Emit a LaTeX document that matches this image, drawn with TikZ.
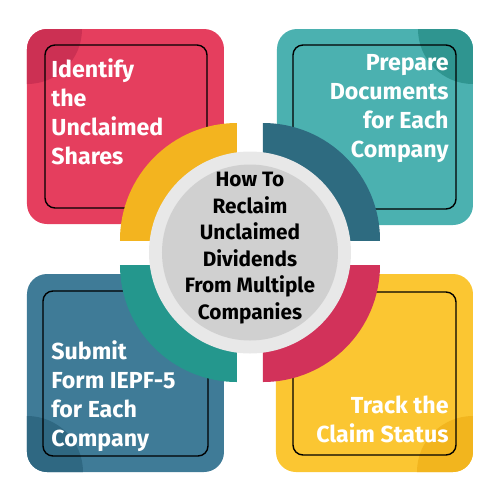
\documentclass[tikz,border=0pt]{standalone}
\usepackage{fontspec}
\setmainfont{Fira Sans}
\definecolor{cRed}{HTML}{E53E5E}
\definecolor{cRedD}{HTML}{CC3053}
\definecolor{cTeal}{HTML}{4BB1B0}
\definecolor{cTealD}{HTML}{2F9590}
\definecolor{cBlue}{HTML}{3F7B97}
\definecolor{cBlueD}{HTML}{2F6882}
\definecolor{cYel}{HTML}{FBC632}
\definecolor{cYelD}{HTML}{F2B51E}
\definecolor{aYel}{HTML}{F3B41F}
\definecolor{aTeal}{HTML}{2E6B80}
\definecolor{aGreen}{HTML}{24978D}
\definecolor{aRed}{HTML}{D2325A}
\definecolor{ringG}{HTML}{E8E8E8}
\definecolor{coreG}{HTML}{D0D0D0}
\tikzset{
  box/.style={rounded corners=10pt},
  inner/.style={draw=black, line width=0.7pt, rounded corners=5pt},
  boxtext/.style={text=white, font=\fontsize{11.6}{14.5}\selectfont\bfseries, inner sep=0pt},
  centertext/.style={text=black, font=\fontsize{10.4}{13.3}\selectfont\bfseries, inner sep=0pt, align=center}
}
\begin{document}
\begin{tikzpicture}[x=0.5pt,y=-0.5pt]
\useasboundingbox (0,0) rectangle (500,500);
% red box
\fill[cRed,box] (27,29) rectangle (224,224);
\begin{scope}\clip[box] (27,29) rectangle (224,224);
\fill[cRedD] (27,29) circle (55);\end{scope}
\draw[inner] (45,45) rectangle (207,208);
% teal box
\fill[cTeal,box] (277,29) rectangle (473,225);
\begin{scope}\clip[box] (277,29) rectangle (473,225);
\fill[cTealD] (473,29) circle (55);\end{scope}
\draw[inner] (293,45) rectangle (456,209);
% blue box
\fill[cBlue,box] (27,274) rectangle (224,472);
\begin{scope}\clip[box] (27,274) rectangle (224,472);
\fill[cBlueD] (27,472) circle (56);\end{scope}
\draw[inner] (43,291) rectangle (208,456);
% yellow box
\fill[cYel,box] (276,274) rectangle (473,472);
\begin{scope}\clip[box] (276,274) rectangle (473,472);
\fill[cYelD] (473,472) circle (56);\end{scope}
\draw[inner] (293,292) rectangle (456,455);
% quarter discs
\begin{scope}\clip (120,123) rectangle (237,240);
\fill[aYel] (237,240) circle (117);\end{scope}
\begin{scope}\clip (263,123) rectangle (380,240);
\fill[aTeal] (263,240) circle (117);\end{scope}
\begin{scope}\clip (120,265) rectangle (237,382);
\fill[aGreen] (237,265) circle (117);\end{scope}
\begin{scope}\clip (263,265) rectangle (380,382);
\fill[aRed] (263,265) circle (117);\end{scope}
% center circle
\fill[ringG] (250,252.5) circle (101);
\fill[coreG] (250,252.5) circle (88);
\node[centertext] (center) at (250,248) {How To\\Reclaim\\Unclaimed\\Dividends\\From Multiple\\Companies};
% texts
\node[boxtext, align=left, anchor=north west] (t1) at (51,58) {Identify\\the\\Unclaimed\\Shares};
\node[boxtext, align=right, anchor=north east] (t2) at (449,54) {Prepare\\Documents\\for Each\\Company};
\node[boxtext, align=left, anchor=north west] (t3) at (51,340) {Submit\\Form IEPF-5\\for Each\\Company};
\node[boxtext, align=right, anchor=north east] (t4) at (449,395) {Track the\\Claim Status};
\end{tikzpicture}
\end{document}
